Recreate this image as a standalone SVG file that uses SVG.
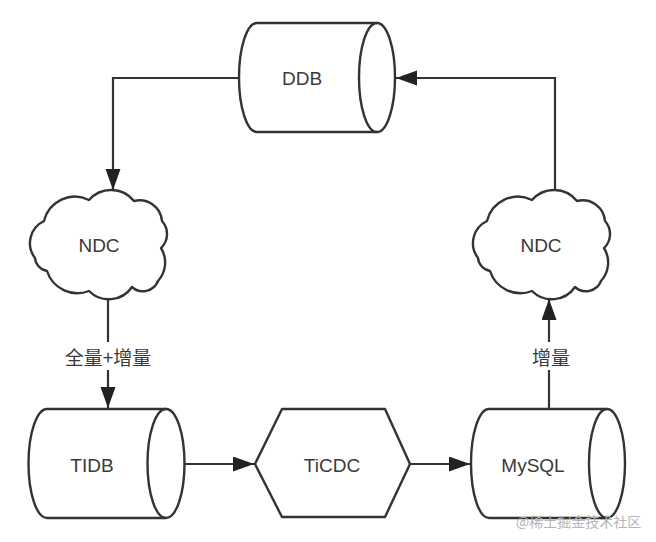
<svg xmlns="http://www.w3.org/2000/svg" width="656" height="542" viewBox="0 0 656 542">
<style>
.shape{fill:#fff;stroke:#333;stroke-width:2.4;stroke-linejoin:round}
.inner{fill:none;stroke:#333;stroke-width:2.4}
.lbl{font-family:"Liberation Sans",Arial,sans-serif;font-size:19px;fill:#3a3a3a;text-anchor:middle;dominant-baseline:central}
.cjk{font-family:"Noto Sans CJK SC","Liberation Sans",sans-serif;font-size:19px;fill:#3a3a3a;text-anchor:middle;dominant-baseline:central}
.edge{fill:none;stroke:#333;stroke-width:2.2}
.wm{font-family:"Noto Sans CJK SC",sans-serif;font-size:14px;fill:#b4b4b4}
</style>
<defs>
<marker id="arr" markerUnits="userSpaceOnUse" markerWidth="22" markerHeight="16" refX="21" refY="7.5" orient="auto">
<path d="M0,0 L21,7.5 L0,15 Z" fill="#222"/>
</marker>
<path id="cloud" d="M44,221 A31.7,31.7 0 0 1 89,200 A29.3,29.3 0 0 1 134,201 A22.5,22.5 0 0 1 162,221 A19.3,19.3 0 0 1 161,248 A27.5,27.5 0 0 1 158,281 A16.2,16.2 0 0 1 132,287 A28,28 0 0 1 89,291 A32,32 0 0 1 47,271 A14.5,14.5 0 0 1 35,258 A24.5,24.5 0 0 1 44,221 Z"/>
</defs>
<g id="edges">
<path class="edge" d="M239,78 H113 V190" marker-end="url(#arr)"/>
<path class="edge" d="M108,298 V342"/>
<path class="edge" d="M108,370 V408" marker-end="url(#arr)"/>
<path class="edge" d="M185,464 H254" marker-end="url(#arr)"/>
<path class="edge" d="M410,464 H470" marker-end="url(#arr)"/>
<path class="edge" d="M549,409 V370"/>
<path class="edge" d="M549,342 V299" marker-end="url(#arr)"/>
<path class="edge" d="M555,190 V78 H396" marker-end="url(#arr)"/>
<text class="cjk" x="108" y="356">全量+增量</text>
<text class="cjk" x="551" y="356">增量</text>
</g>
<g id="ddb">
<path class="shape" d="M257,23 H377 A18,54.5 0 0 1 377,132 H257 A18,54.5 0 0 1 257,23 Z"/>
<path class="inner" d="M377,23 A18,54.5 0 0 0 377,132"/>
<text class="lbl" x="302" y="78">DDB</text>
</g>
<g id="ndc-left">
<use href="#cloud" class="shape"/>
<text class="lbl" x="99" y="245">NDC</text>
</g>
<g id="ndc-right">
<use href="#cloud" class="shape" transform="translate(443,0)"/>
<text class="lbl" x="541" y="245">NDC</text>
</g>
<g id="tidb">
<path class="shape" d="M47,409 H166 A18.5,54.5 0 0 1 166,518 H47 A18.5,54.5 0 0 1 47,409 Z"/>
<path class="inner" d="M166,409 A18.5,54.5 0 0 0 166,518"/>
<text class="lbl" x="92" y="465">TIDB</text>
</g>
<g id="ticdc">
<path class="shape" d="M255,464 L282,409 H385 L410,464 L385,517 H282 Z"/>
<text class="lbl" x="332" y="465">TiCDC</text>
</g>
<g id="mysql">
<path class="shape" d="M489,409 H607 A18,54.5 0 0 1 607,518 H489 A18,54.5 0 0 1 489,409 Z"/>
<path class="inner" d="M607,409 A18,54.5 0 0 0 607,518"/>
<text class="lbl" x="533" y="465">MySQL</text>
</g>
<text class="wm" x="516" y="527">@稀土掘金技术社区</text>
</svg>
